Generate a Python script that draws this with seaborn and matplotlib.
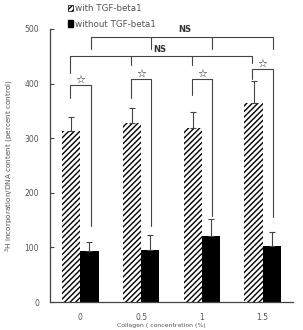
import pandas as pd
import seaborn as sns
import matplotlib.pyplot as plt
from matplotlib.patches import Patch

# data
concentrations = ["0", "0.5", "1", "1.5"]
groups = ["with TGF-beta1", "without TGF-beta1"]
with_tgf = [314, 328, 319, 364]
with_tgf_err = [25, 28, 29, 40]
without_tgf = [94, 95, 121, 103]
without_tgf_err = [16, 28, 31, 25]

# significance annotations
star_bracket_y = [397, 408, 408, 426]
star_left_end = [373, 373, 379, 408]
star_right_end = [139, 139, 157, 156]
ns_black_y = 486
ns_black_ticks = [463, 463, 463, 463]
ns_hatched_y = 450
ns_hatched_ticks = [419, 434, 434, 437]

df = pd.DataFrame({
    "conc": concentrations * 2,
    "group": [groups[0]] * 4 + [groups[1]] * 4,
    "value": with_tgf + without_tgf,
})

sns.set_style("ticks")
plt.rcParams["font.family"] = ["DejaVu Sans"]
plt.rcParams["hatch.linewidth"] = 1.0
text_col = "#555555"
line_col = "#444444"

fig = plt.figure(figsize=(3.03, 3.30), dpi=100)
ax = fig.add_axes([50 / 303, 28 / 330, 243 / 303, 273 / 330])

sns.barplot(data=df, x="conc", y="value", hue="group", order=concentrations,
            hue_order=groups, palette=["white", "black"], width=0.6,
            errorbar=None, ax=ax, legend=False, saturation=1)

for bar in ax.containers[0]:
    bar.set_hatch("//////")
    bar.set_edgecolor("black")
    bar.set_linewidth(0)
for bar in ax.containers[1]:
    bar.set_edgecolor("black")
    bar.set_linewidth(0)

xs_h = [b.get_x() + b.get_width() / 2 for b in ax.containers[0]]
xs_b = [b.get_x() + b.get_width() / 2 for b in ax.containers[1]]

ax.errorbar(xs_h, with_tgf, yerr=[[0] * 4, with_tgf_err], fmt="none",
            ecolor=line_col, elinewidth=0.8, capsize=2, capthick=0.8)
ax.errorbar(xs_b, without_tgf, yerr=[[0] * 4, without_tgf_err], fmt="none",
            ecolor=line_col, elinewidth=0.8, capsize=2, capthick=0.8)

# star brackets
for i in range(4):
    xl, xr = xs_h[i] - 0.02, xs_b[i] + 0.02
    ax.plot([xl, xl, xr, xr],
            [star_left_end[i], star_bracket_y[i], star_bracket_y[i], star_right_end[i]],
            color=line_col, lw=0.8, clip_on=False)
    ax.text((xl + xr) / 2, star_bracket_y[i] + 1, "\u2606", ha="center",
            va="bottom", fontsize=8, fontweight="bold", color="#222222")

# NS brackets
xb = [x + 0.02 for x in xs_b]
ax.plot([xb[0], xb[-1]], [ns_black_y, ns_black_y], color=line_col, lw=0.8)
for x, t in zip(xb, ns_black_ticks):
    ax.plot([x, x], [ns_black_y, t], color=line_col, lw=0.8)
ax.text(1.72, ns_black_y + 4, "NS", ha="center", va="bottom", fontsize=6,
        fontweight="bold", color="#333333")

xh = [x - 0.02 for x in xs_h]
ax.plot([xh[0], xh[-1]], [ns_hatched_y, ns_hatched_y], color=line_col, lw=0.8)
for x, t in zip(xh, ns_hatched_ticks):
    ax.plot([x, x], [ns_hatched_y, t], color=line_col, lw=0.8)
ax.text(1.3, ns_hatched_y + 4, "NS", ha="center", va="bottom", fontsize=6,
        fontweight="bold", color="#333333")

ax.set_xlim(-0.5, 3.5)
ax.set_ylim(0, 500)
ax.set_yticks([0, 100, 200, 300, 400, 500])
ax.tick_params(axis="y", direction="in", length=3, width=0.8, colors=line_col,
               labelsize=5.5, labelcolor=text_col, pad=8)
ax.tick_params(axis="x", length=0, labelsize=5.5, labelcolor=text_col, pad=8)
sns.despine(ax=ax)
for side in ["left", "bottom"]:
    ax.spines[side].set_color(line_col)
    ax.spines[side].set_linewidth(0.9)

ax.set_xlabel("Collagen ( concentration (%)", fontsize=4.4, color=text_col)
ax.xaxis.set_label_coords(0.46, -0.078)
ax.set_ylabel("$^{3}$H incorporation/DNA content (percent control)",
              fontsize=5.2, color=text_col)
ax.yaxis.set_label_coords(-0.14, 0.5)

handles = [Patch(facecolor="white", edgecolor="black", hatch="//////", lw=0.5),
           Patch(facecolor="black", edgecolor="black")]
fig.legend(handles, groups, loc="upper left", bbox_to_anchor=(68 / 303, 1 - 4 / 330),
           frameon=False, fontsize=6.3, handlelength=0.6, handleheight=0.7,
           handletextpad=0.25, labelspacing=0.75, labelcolor=text_col,
           borderaxespad=0, borderpad=0)

fig.savefig("out.png", dpi=100)
